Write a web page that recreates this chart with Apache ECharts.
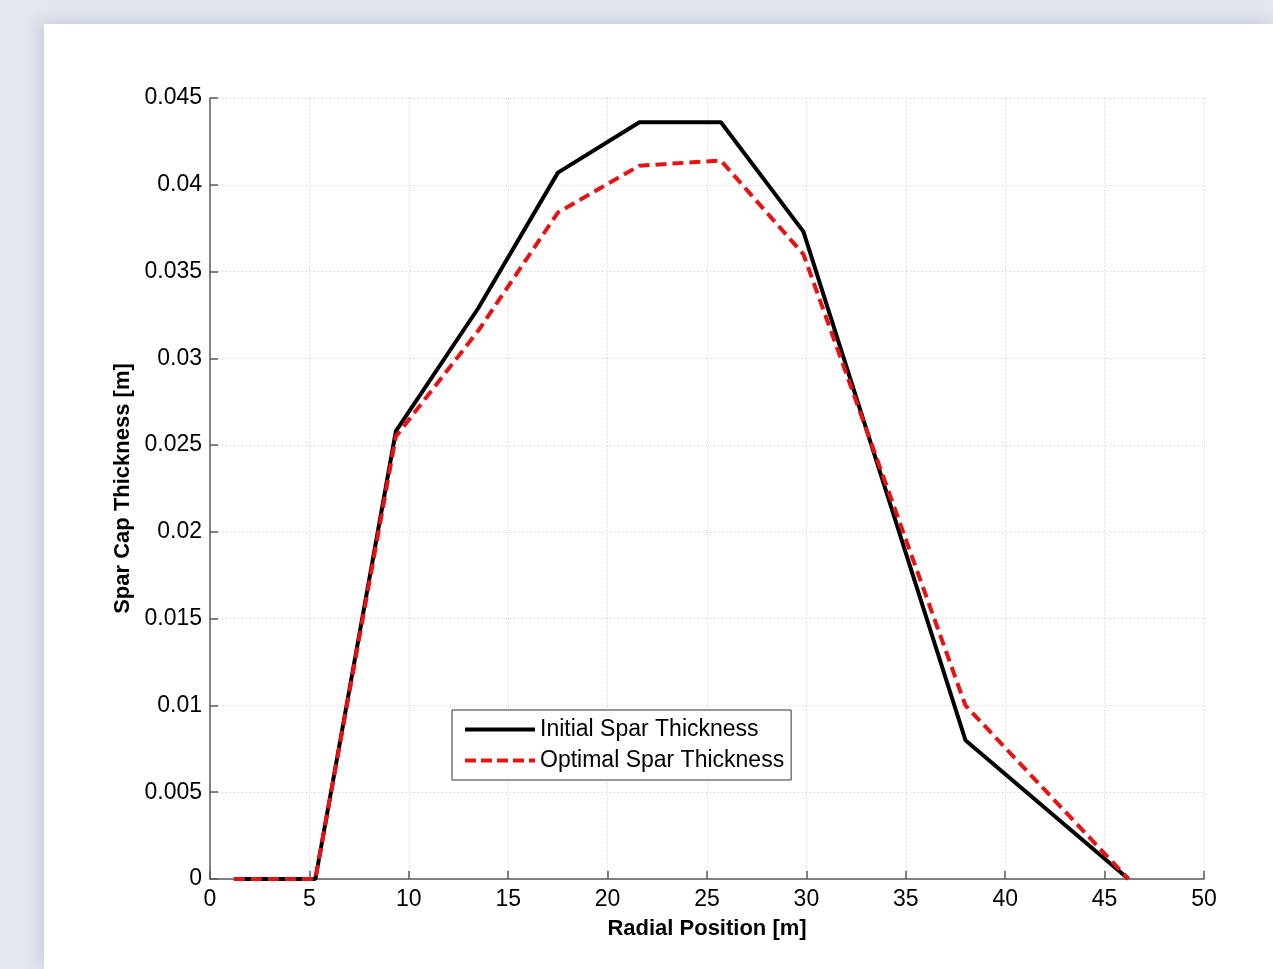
<!DOCTYPE html>
<html>
<head>
<meta charset="utf-8">
<script src="https://cdn.jsdelivr.net/npm/echarts@6/dist/echarts.min.js"></script>
<style>
  html, body { margin: 0; padding: 0; width: 1273px; height: 969px; overflow: hidden; background: #e2e6ee; }
  #panel { position: absolute; left: 44px; top: 24px; width: 1229px; height: 945px; background: #ffffff; box-shadow: -4px -3px 14px rgba(110,120,145,0.22); }
  #chart { position: absolute; left: 0; top: 0; width: 1273px; height: 969px; }
</style>
</head>
<body>
<div id="panel"></div>
<div id="chart"></div>
<script>
// Data
const radialPosition = [1.2, 5.3, 9.35, 13.5, 17.5, 21.6, 25.7, 29.85, 38.0, 46.2];
const initialThickness = [0, 0, 0.0258, 0.0329, 0.0407, 0.0436, 0.0436, 0.0373, 0.0080, 0];
const optimalThickness = [0, 0, 0.0255, 0.0316, 0.0384, 0.0411, 0.0414, 0.0360, 0.0100, 0];
const seriesNames = ['Initial Spar Thickness', 'Optimal Spar Thickness'];
const xAxisTitle = 'Radial Position [m]';
const yAxisTitle = 'Spar Cap Thickness [m]';

const pairs = (xs, ys) => xs.map((x, i) => [x, ys[i]]);
const FONT = '"Liberation Sans", Arial, sans-serif';
const RED = '#e81212';

const chart = echarts.init(document.getElementById('chart'), null, { renderer: 'canvas' });
chart.setOption({
  backgroundColor: 'transparent',
  animation: false,
  textStyle: { fontFamily: FONT },
  grid: { left: 210, right: 69, top: 98, bottom: 90, containLabel: false },
  xAxis: {
    type: 'value', min: 0, max: 50, interval: 5,
    name: xAxisTitle, nameLocation: 'middle', nameGap: 39,
    nameTextStyle: { fontFamily: FONT, fontSize: 22, fontWeight: 'bold', color: '#000' },
    axisLine: { show: true, lineStyle: { color: '#5a5a5a', width: 1.5 } },
    axisTick: { show: true, inside: true, length: 8, lineStyle: { color: '#5a5a5a', width: 1.5 } },
    axisLabel: { fontFamily: FONT, fontSize: 23, color: '#000', margin: 9 },
    splitLine: { show: true, lineStyle: { color: '#c8c8c8', type: [1, 3], width: 1 } }
  },
  yAxis: {
    type: 'value', min: 0, max: 0.045, interval: 0.005,
    name: yAxisTitle, nameLocation: 'middle', nameGap: 75,
    nameTextStyle: { fontFamily: FONT, fontSize: 22, fontWeight: 'bold', color: '#000' },
    axisLine: { show: true, lineStyle: { color: '#5a5a5a', width: 1.5 } },
    axisTick: { show: true, inside: true, length: 8, lineStyle: { color: '#5a5a5a', width: 1.5 } },
    axisLabel: { fontFamily: FONT, fontSize: 23, color: '#000', margin: 8 },
    splitLine: { show: true, lineStyle: { color: '#c8c8c8', type: [1, 3], width: 1 } }
  },
  legend: {
    orient: 'vertical', left: 452, top: 710,
    padding: [8, 7, 8, 11], itemGap: 8, itemWidth: 70, itemHeight: 14,
    backgroundColor: '#ffffff', borderColor: '#333333', borderWidth: 1, borderRadius: 0,
    textStyle: { fontFamily: FONT, fontSize: 23, color: '#000', lineHeight: 23 },
    data: [
      { name: seriesNames[0], itemStyle: { opacity: 0 }, lineStyle: { color: '#000000', width: 4, type: 'solid', opacity: 1 } },
      { name: seriesNames[1], itemStyle: { opacity: 0 }, lineStyle: { color: RED, width: 4, type: [11, 5], opacity: 1 } }
    ]
  },
  series: [
    {
      name: seriesNames[0], type: 'line', symbol: 'none', z: 2,
      data: pairs(radialPosition, initialThickness),
      lineStyle: { color: '#000000', width: 4, type: 'solid' },
      itemStyle: { color: '#000000' }
    },
    {
      name: seriesNames[1], type: 'line', symbol: 'none', z: 3,
      data: pairs(radialPosition, optimalThickness),
      lineStyle: { color: RED, width: 4, type: [11, 6] },
      itemStyle: { color: RED }
    }
  ]
});
</script>
</body>
</html>
